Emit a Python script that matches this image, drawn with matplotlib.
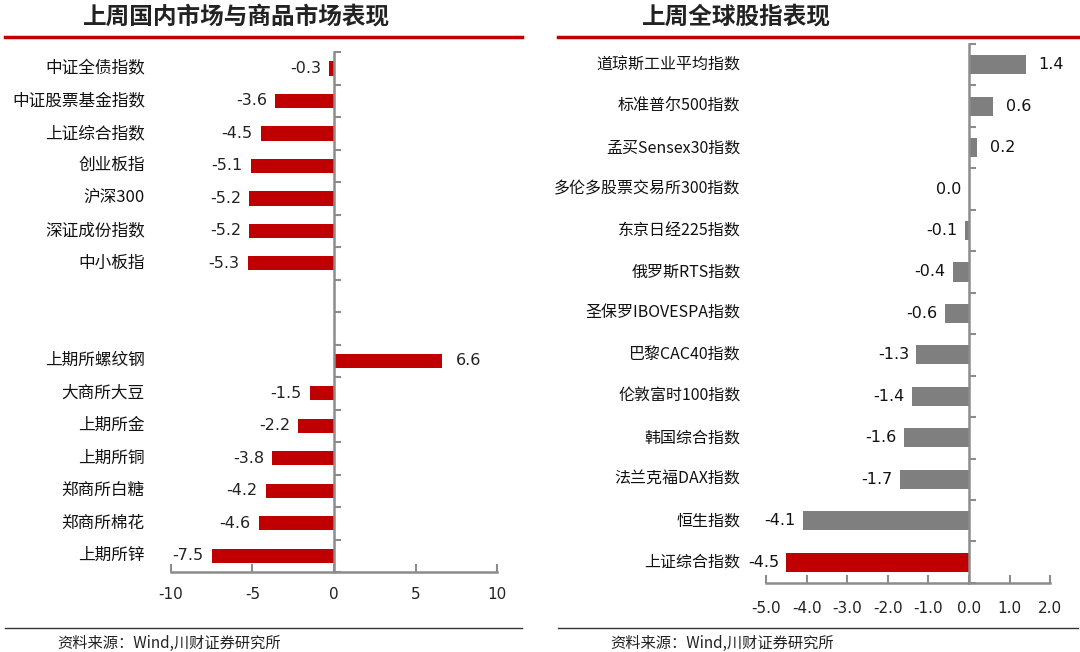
import matplotlib
matplotlib.use('Agg')
import matplotlib.pyplot as plt
import matplotlib.ticker as ticker
from matplotlib.lines import Line2D
import numpy as np

plt.rcParams['font.family'] = ['Noto Sans CJK SC', 'DejaVu Sans']

# left chart data (None = empty slot)
dom_labels = ['中证全债指数', '中证股票基金指数', '上证综合指数', '创业板指', '沪深300', '深证成份指数', '中小板指',
              '', '',
              '上期所螺纹钢', '大商所大豆', '上期所金', '上期所铜', '郑商所白糖', '郑商所棉花', '上期所锌']
dom_values = [-0.3, -3.6, -4.5, -5.1, -5.2, -5.2, -5.3,
              None, None,
              6.6, -1.5, -2.2, -3.8, -4.2, -4.6, -7.5]
dom_xticks = [-10, -5, 0, 5, 10]

# right chart data
glb_labels = ['道琼斯工业平均指数', '标准普尔500指数', '孟买Sensex30指数', '多伦多股票交易所300指数', '东京日经225指数',
              '俄罗斯RTS指数', '圣保罗IBOVESPA指数', '巴黎CAC40指数', '伦敦富时100指数', '韩国综合指数',
              '法兰克福DAX指数', '恒生指数', '上证综合指数']
glb_values = [1.4, 0.6, 0.2, 0.0, -0.1, -0.4, -0.6, -1.3, -1.4, -1.6, -1.7, -4.1, -4.5]
glb_xticks = [-5.0, -4.0, -3.0, -2.0, -1.0, 0.0, 1.0, 2.0]

RED = '#C00000'
GRAY = '#7F7F7F'
AXC = '#8C8C8C'

fig = plt.figure(figsize=(10.8, 6.52), dpi=100, facecolor='w')


def style_axis(ax, n, xmin, xmax, xticks, fmt, pad):
    ax.set_xlim(xmin, xmax)
    ax.set_ylim(n - 0.5, -0.5)
    for s in ['top', 'right']:
        ax.spines[s].set_visible(False)
    ax.spines['left'].set_position(('data', 0))
    ax.spines['left'].set_color(AXC)
    ax.spines['bottom'].set_color(AXC)
    ax.spines['left'].set_linewidth(1.8)
    ax.spines['bottom'].set_linewidth(1.8)
    ax.set_xticks(xticks)
    ax.xaxis.set_major_formatter(ticker.FormatStrFormatter(fmt))
    ax.tick_params(axis='x', direction='in', length=6, width=1.5, color=AXC, pad=pad,
                   labelsize=11, labelcolor='#222222')
    ax.set_yticks([])
    ax.set_yticks(np.arange(n + 1) - 0.5, minor=True)
    ax.tick_params(axis='y', which='minor', direction='in', length=5, width=1.5, color=AXC)
    ax.tick_params(axis='y', which='major', length=0)
    for lbl in ax.get_xticklabels():
        lbl.set_family(['DejaVu Sans'])


# ---------- left ----------
ax1 = fig.add_axes([0.1583, 0.1227, 0.3019, 0.7973])
n1 = len(dom_labels)
for i, v in enumerate(dom_values):
    if v is None:
        continue
    ax1.barh(i, v, height=0.44, color=RED, zorder=2)
    if v < 0:
        ax1.text(v - 0.5, i, '%.1f' % v, ha='right', va='center', fontsize=11.5, color='#222222',
                 family=['DejaVu Sans'])
    else:
        ax1.text(v + 0.9, i, '%.1f' % v, ha='left', va='center', fontsize=11.5, color='#222222',
                 family=['DejaVu Sans'])
    ax1.text(-0.08, i, dom_labels[i], ha='right', va='center', fontsize=12, color='#111111',
             transform=ax1.get_yaxis_transform())
style_axis(ax1, n1, -10, 10, dom_xticks, '%d', 11)

# ---------- right ----------
ax2 = fig.add_axes([0.7093, 0.106, 0.2630, 0.8265])
n2 = len(glb_labels)
for i, v in enumerate(glb_values):
    c = RED if i == n2 - 1 else GRAY
    ax2.barh(i, v, height=0.46, color=c, zorder=2)
    if v <= 0:
        ax2.text(v - 0.18, i, '%.1f' % v, ha='right', va='center', fontsize=11.5, color='#111111',
                 family=['DejaVu Sans'])
    else:
        ax2.text(v + 0.32, i, '%.1f' % v, ha='left', va='center', fontsize=11.5, color='#111111',
                 family=['DejaVu Sans'])
    ax2.text(-0.09, i, glb_labels[i], ha='right', va='center', fontsize=11.5, color='#111111',
             transform=ax2.get_yaxis_transform())
style_axis(ax2, n2, -5, 2, glb_xticks, '%.1f', 13)

# ---------- titles, rules, source ----------
fig.text(237 / 1080, 1 - 16 / 652, '上周国内市场与商品市场表现', ha='center', va='center',
         fontsize=17, fontweight='bold', color='#222222')
fig.text(736 / 1080, 1 - 16 / 652, '上周全球股指表现', ha='center', va='center',
         fontsize=17, fontweight='bold', color='#222222')
fig.add_artist(Line2D([5 / 1080, 522 / 1080], [1 - 37 / 652] * 2, color=RED, lw=2.5))
fig.add_artist(Line2D([558 / 1080, 1078 / 1080], [1 - 37 / 652] * 2, color=RED, lw=2.5))
fig.add_artist(Line2D([5 / 1080, 522 / 1080], [1 - 628 / 652] * 2, color='#333333', lw=1))
fig.add_artist(Line2D([558 / 1080, 1078 / 1080], [1 - 628 / 652] * 2, color='#333333', lw=1))
fig.text(57 / 1080, 1 - 643 / 652, '资料来源：Wind,川财证券研究所', ha='left', va='center',
         fontsize=11, style='italic', color='#222222')
fig.text(610 / 1080, 1 - 643 / 652, '资料来源：Wind,川财证券研究所', ha='left', va='center',
         fontsize=11, style='italic', color='#222222')

fig.savefig('out.png', dpi=100, facecolor='w')
